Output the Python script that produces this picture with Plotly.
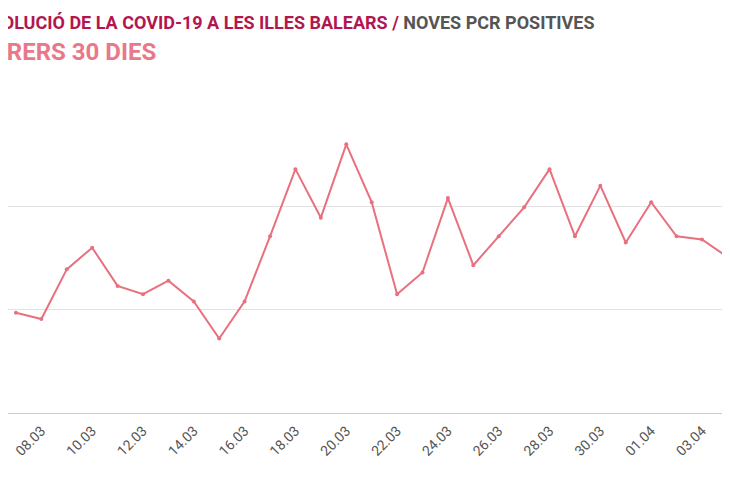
import plotly.graph_objects as go
import pandas as pd

dates = pd.date_range("2021-03-07", "2021-04-05", freq="D")
pcr_positives = [97, 91, 139, 160, 123, 115, 128, 108, 72, 108, 171, 236, 189, 260, 204,
                 115, 136, 208, 143, 171, 199, 236, 171, 220, 165, 204, 171, 168, 151, 149]

fig = go.Figure()
fig.add_trace(go.Scatter(x=dates, y=pcr_positives, mode="lines+markers",
                         line=dict(color="#e8707f", width=2), marker=dict(size=4, color="#e8707f"),
                         cliponaxis=False, hoverinfo="x+y"))

# page body adds an 8px offset, so the figure is shifted to compensate
fig.update_layout(
    width=730, height=500, showlegend=False,
    margin=dict(l=0, r=0, t=95, b=95),
    plot_bgcolor="white", paper_bgcolor="white",
    font=dict(family="Liberation Sans Narrow, Roboto", color="#555"),
)
fig.update_xaxes(range=["2021-03-06 16:30", "2021-04-04 10:00"], dtick=2 * 86400000, tick0="2021-03-08",
                 tickformat="%d.%m", tickangle=-45, tickfont=dict(size=14, color="#555"),
                 ticklabeloverflow="allow", ticklabelstandoff=6,
                 showgrid=False, showline=False, zeroline=False, ticks="")
fig.update_yaxes(range=[0, 300], dtick=100, showticklabels=False, gridcolor="#e3e3e3",
                 zeroline=True, zerolinecolor="#cccccc", zerolinewidth=1, fixedrange=True)

fig.add_annotation(xref="paper", yref="paper", x=589 / 730, y=1 + (95 - 14) / 310,
                   xanchor="right", yanchor="middle", showarrow=False,
                   text="<b><span style='color:#b3164f'>EVOLUCIÓ DE LA COVID-19 A LES ILLES BALEARS /</span> NOVES PCR POSITIVES</b>",
                   font=dict(size=18, color="#555"))
fig.add_annotation(xref="paper", yref="paper", x=150 / 730, y=1 + (95 - 44) / 310,
                   xanchor="right", yanchor="middle", showarrow=False,
                   text="<b>DARRERS 30 DIES</b>", font=dict(size=24, color="#e8788a"))

fig.write_html("out.html")
